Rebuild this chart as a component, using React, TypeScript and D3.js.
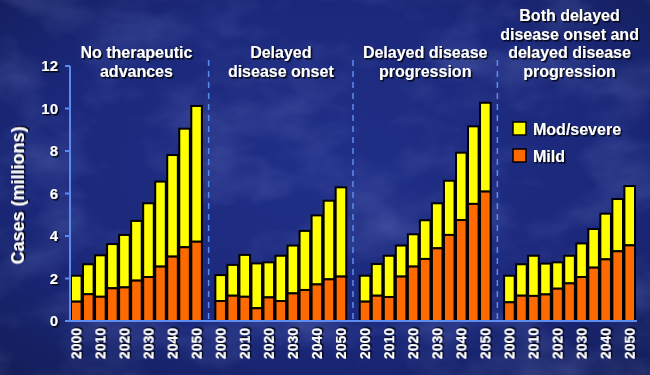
import React from 'react';
import * as d3 from 'd3';

const W = 650;
const H = 375;

// scenario panels, 2000..2050 every 5 years
const years = [2000, 2005, 2010, 2015, 2020, 2025, 2030, 2035, 2040, 2045, 2050];
const tickYears = [2000, 2010, 2020, 2030, 2040, 2050];

const panelTitles = [
  ['No therapeutic', 'advances'],
  ['Delayed', 'disease onset'],
  ['Delayed disease', 'progression'],
  ['Both delayed', 'disease onset and', 'delayed disease', 'progression'],
];

// millions of cases
const mild = [
  [0.91, 1.26, 1.14, 1.54, 1.58, 1.9, 2.07, 2.56, 3.03, 3.47, 3.73],
  [0.94, 1.19, 1.14, 0.6, 1.11, 0.94, 1.3, 1.46, 1.72, 1.96, 2.09],
  [0.91, 1.19, 1.13, 2.09, 2.56, 2.92, 3.42, 4.05, 4.75, 5.51, 6.09],
  [0.88, 1.19, 1.18, 1.25, 1.52, 1.77, 2.07, 2.51, 2.9, 3.28, 3.56],
];
const modSevere = [
  [1.22, 1.41, 1.95, 2.08, 2.47, 2.81, 3.47, 4.0, 4.78, 5.58, 6.39],
  [1.22, 1.45, 1.97, 2.11, 1.65, 2.13, 2.25, 2.78, 3.25, 3.7, 4.2],
  [1.22, 1.49, 1.94, 1.46, 1.52, 1.82, 2.12, 2.55, 3.17, 3.65, 4.18],
  [1.25, 1.48, 1.89, 1.45, 1.24, 1.3, 1.58, 1.82, 2.15, 2.46, 2.79],
];

const yTicks = [0, 2, 4, 6, 8, 10, 12];

const FONT = "'Liberation Sans', Arial, sans-serif";
const AXIS = '#5d8cf0';
const YELLOW = '#ffff00';
const ORANGE = '#ff6a00';

const App: React.FC = () => {
  const nSlots = years.length * 4 + 3;
  const x = d3.scaleBand<number>().domain(d3.range(nSlots)).range([71, 635]).paddingInner(0.12);
  const y = d3.scaleLinear().domain([0, 12]).range([321, 66]);
  const slot = (p: number, i: number) => p * (years.length + 1) + i;

  return (
    <svg width={W} height={H} style={{ position: 'absolute', left: 0, top: 0 }} fontFamily={FONT}>
      <defs>
        <radialGradient id="bg" cx="50%" cy="45%" r="75%">
          <stop offset="0%" stopColor="#202f88" />
          <stop offset="60%" stopColor="#1b287a" />
          <stop offset="100%" stopColor="#131d58" />
        </radialGradient>
        <filter id="marble" x="0" y="0" width="100%" height="100%">
          <feTurbulence type="fractalNoise" baseFrequency="0.012 0.02" numOctaves="4" seed="7" result="n" />
          <feColorMatrix type="matrix" values="0 0 0 0 0.45  0 0 0 0 0.55  0 0 0 0 1  0 0 0 1.4 -0.6" />
        </filter>
        <filter id="shadow" x="-10%" y="-30%" width="130%" height="160%">
          <feDropShadow dx="1.5" dy="1.5" stdDeviation="0.6" floodColor="#000" floodOpacity="0.9" />
        </filter>
      </defs>

      <rect width={W} height={H} fill="url(#bg)" />
      <rect width={W} height={H} filter="url(#marble)" opacity={0.28} />

      {/* dashed panel separators */}
      {[0, 1, 2].map((p) => {
        const sx = x(slot(p, years.length))! + x.bandwidth() / 2;
        return (
          <line key={p} x1={sx} x2={sx} y1={60} y2={321} stroke={AXIS} strokeWidth={1.5} strokeDasharray="6,5" />
        );
      })}

      {/* bars */}
      {mild.map((m, p) =>
        m.map((v, i) => {
          const bx = x(slot(p, i))!;
          const bw = x.bandwidth();
          const total = v + modSevere[p][i];
          return (
            <g key={`${p}-${i}`} stroke="#000" strokeWidth={2}>
              <rect x={bx} y={y(total)} width={bw} height={y(v) - y(total)} fill={YELLOW} />
              <rect x={bx} y={y(v)} width={bw} height={y(0) - y(v)} fill={ORANGE} />
            </g>
          );
        })
      )}

      {/* axes */}
      <line x1={70} x2={70} y1={y(12)} y2={y(0)} stroke={AXIS} strokeWidth={2} />
      <line x1={66} x2={x.range()[1] + 2} y1={y(0)} y2={y(0)} stroke={AXIS} strokeWidth={2} />
      {yTicks.map((t) => (
        <g key={t}>
          <line x1={65} x2={70} y1={y(t)} y2={y(t)} stroke={AXIS} strokeWidth={2} />
          <text
            x={58}
            y={y(t)}
            dy="0.35em"
            textAnchor="end"
            fill="#fff"
            fontSize={15}
            fontWeight="bold"
            filter="url(#shadow)"
          >
            {t}
          </text>
        </g>
      ))}

      {/* x tick labels */}
      {[0, 1, 2, 3].map((p) =>
        tickYears.map((yr) => {
          const i = years.indexOf(yr);
          const cx = x(slot(p, i))! + x.bandwidth() / 2;
          return (
            <text
              key={`${p}-${yr}`}
              transform={`translate(${cx},328) rotate(-90)`}
              dy="0.36em"
              textAnchor="end"
              fill="#fff"
              fontSize={14}
              fontWeight="bold"
              filter="url(#shadow)"
            >
              {yr}
            </text>
          );
        })
      )}

      {/* y label */}
      <text
        transform={`translate(24,${(y(0) + y(12)) / 2 + 2}) rotate(-90)`}
        textAnchor="middle"
        fill="#fff"
        fontSize={18}
        fontWeight="bold"
        filter="url(#shadow)"
      >
        Cases (millions)
      </text>

      {/* panel titles */}
      {panelTitles.map((lines, p) => {
        const cx = (x(slot(p, 0))! + x(slot(p, years.length - 1))! + x.bandwidth()) / 2;
        return (
          <text
            key={p}
            textAnchor="middle"
            fill="#fff"
            fontSize={16}
            fontWeight="bold"
            filter="url(#shadow)"
          >
            {lines.map((l, k) => (
              <tspan key={k} x={cx} y={77 - (lines.length - 1 - k) * 18.7}>
                {l}
              </tspan>
            ))}
          </text>
        );
      })}

      {/* legend */}
      {[
        { label: 'Mod/severe', color: YELLOW },
        { label: 'Mild', color: ORANGE },
      ].map((d, k) => (
        <g key={d.label} transform={`translate(513,${122 + k * 27})`}>
          <rect width={13} height={13} fill={d.color} stroke="#000" strokeWidth={1.5} />
          <text x={20} y={7} dy="0.36em" fill="#fff" fontSize={16} fontWeight="bold" filter="url(#shadow)">
            {d.label}
          </text>
        </g>
      ))}
    </svg>
  );
};

export default App;
